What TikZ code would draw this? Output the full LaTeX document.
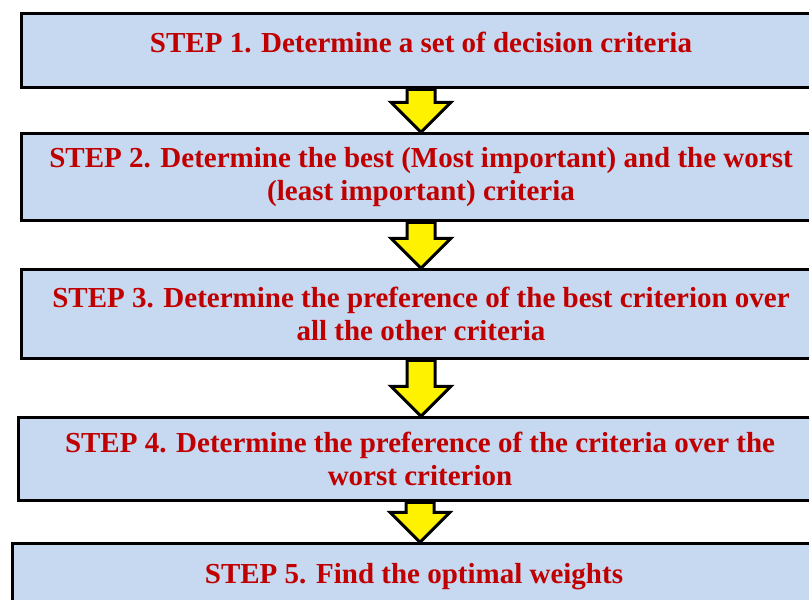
\documentclass[tikz,border=0pt]{standalone}
\usepackage{fontspec}
\setmainfont{Liberation Serif}
\usetikzlibrary{positioning, calc}
\definecolor{boxblue}{RGB}{198,217,241}
\definecolor{stepred}{RGB}{192,0,0}

\begin{document}
\begin{tikzpicture}[
			x=1pt, y=1pt,
			stepbox/.style={draw, line width=3pt, fill=boxblue, align=center, minimum width=800pt, inner sep=4pt, text=stepred, font=\fontsize{29}{33}\selectfont\bfseries},
			shortbox/.style={stepbox, minimum height=74.5pt, text depth=16pt},
			fatarrow/.style={draw=black, line width=3pt, fill=yellow, to path={let \p1=(\tikztostart), \p2=(\tikztotarget) in
				(\x1-14pt,\y1) -- (\x1-14pt,\y2+30pt) -- (\x1-30pt,\y2+30pt) -- (\x1,\y2) -- (\x1+30pt,\y2+30pt) -- (\x1+14pt,\y2+30pt) -- (\x1+14pt,\y1) -- cycle}}
			]
			\clip (0,0) rectangle (809,-600);
			
			% Nodes
			\node (s1) [shortbox] at (421,-50.5) {STEP 1. Determine a set of decision criteria};
			\node (s2) [stepbox, minimum height=87pt, below=43pt of s1] {STEP 2. Determine the best (Most important) and the worst\\(least important) criteria};
			\node (s3) [stepbox, minimum height=89pt, below=46pt of s2] {STEP 3. Determine the preference of the best criterion over\\all the other criteria};
			\node (s4) [stepbox, minimum height=83pt, minimum width=804pt, below=56pt of s3, xshift=-1pt] {STEP 4. Determine the preference of the criteria over the\\worst criterion};
			\node (s5) [shortbox, minimum width=804pt, below=40pt of s4, xshift=-6pt] {STEP 5. Find the optimal weights};
			
			% Connections
			\draw [fatarrow] (s1.south) to (s2.north);
			\draw [fatarrow] (s2.south) to (s3.north);
			\draw [fatarrow] (s3.south) to (s4.north);
			\draw [fatarrow] (s4.south) to (s5.north);
			
		\end{tikzpicture}
\end{document}
